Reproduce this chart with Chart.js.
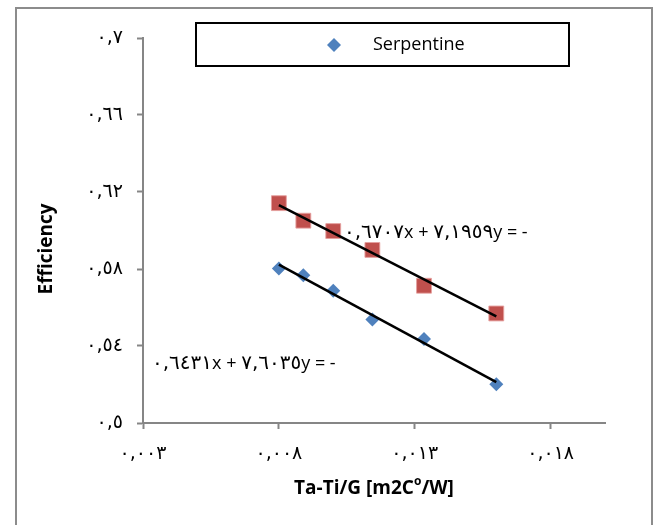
<!DOCTYPE html>
<html>
<head>
<meta charset="utf-8">
<script src="https://cdn.jsdelivr.net/npm/chart.js@4"></script>
<style>
  html, body { margin: 0; padding: 0; background: #fff; }
  canvas { display: block; }
</style>
</head>
<body>
<canvas id="chart" width="657" height="525"></canvas>
<script>
// ---- Data ----
const xSerpentine = [0.0080, 0.0089, 0.0100, 0.01144, 0.01334, 0.0160];
const ySerpentine = [0.5803, 0.5768, 0.5687, 0.5538, 0.5437, 0.5201];
const xSecond = [0.0080, 0.0089, 0.0100, 0.01144, 0.01334, 0.0160];
const ySecond = [0.6142, 0.6051, 0.5997, 0.5899, 0.5713, 0.5569];

const yTickValues = [0.5, 0.54, 0.58, 0.62, 0.66, 0.7];
const yTickLabels = ['٠,٥', '٠,٥٤', '٠,٥٨', '٠,٦٢', '٠,٦٦', '٠,٧'];
const xTickValues = [0.003, 0.008, 0.013, 0.018];
const xTickLabels = ['٠,٠٠٣', '٠,٠٠٨', '٠,٠١٣', '٠,٠١٨'];

// equation labels, split into arabic digit runs and latin runs
const eqSerpentine = ['٠,٦٤٣١', 'x + ', '٧,٦٠٣٥', 'y = -'];
const eqSecond = ['٠,٦٧٠٧', 'x + ', '٧,١٩٥٩', 'y = -'];

const BLUE = '#4F81BD';
const RED = '#C0504D';
const AXIS = '#868686';
const LATIN = "'Open Sans', 'DejaVu Sans', sans-serif";
const ARABIC = "'DejaVu Sans', sans-serif";

// least squares trendline, drawn from first to last x
function trend(xs, ys) {
  const n = xs.length;
  const mx = xs.reduce((a, b) => a + b, 0) / n;
  const my = ys.reduce((a, b) => a + b, 0) / n;
  let sxy = 0, sxx = 0;
  xs.forEach((x, i) => { sxy += (x - mx) * (ys[i] - my); sxx += (x - mx) * (x - mx); });
  const m = sxy / sxx, b = my - m * mx;
  const x0 = Math.min(...xs), x1 = Math.max(...xs);
  return [{ x: x0, y: m * x0 + b }, { x: x1, y: m * x1 + b }];
}

const toPoints = (xs, ys) => xs.map((x, i) => ({ x, y: ys[i] }));

function drawRuns(ctx, runs, x, y) {
  ctx.textAlign = 'left';
  ctx.textBaseline = 'alphabetic';
  runs.forEach((t, i) => {
    ctx.font = i % 2 === 0 ? '20px ' + ARABIC : '18px ' + LATIN;
    ctx.fillText(t, x, y);
    x += ctx.measureText(t).width;
  });
}

// ---- Extras: frame, legend, titles, equations ----
const extras = {
  id: 'extras',
  afterDraw(chart) {
    const ctx = chart.ctx;
    ctx.save();
    ctx.direction = 'ltr';
    // outer frame
    ctx.strokeStyle = '#8c8c8c';
    ctx.lineWidth = 2;
    ctx.strokeRect(16, 8, 636, 530);

    // legend box
    ctx.strokeStyle = '#000';
    ctx.lineWidth = 2;
    ctx.strokeRect(196, 23, 373, 43);
    ctx.fillStyle = BLUE;
    ctx.beginPath();
    ctx.moveTo(334, 38); ctx.lineTo(341, 45); ctx.lineTo(334, 52); ctx.lineTo(327, 45);
    ctx.closePath();
    ctx.fill();
    ctx.fillStyle = '#000';
    ctx.font = '18px ' + LATIN;
    ctx.textAlign = 'left';
    ctx.textBaseline = 'middle';
    ctx.fillText('Serpentine', 373, 45);

    // equations
    drawRuns(ctx, eqSecond, 344, 238);
    drawRuns(ctx, eqSerpentine, 152, 369);

    // y title
    ctx.textBaseline = 'middle';
    ctx.font = 'bold 19px ' + LATIN;
    ctx.save();
    ctx.translate(47, 249);
    ctx.rotate(-Math.PI / 2);
    ctx.textAlign = 'center';
    ctx.fillText('Efficiency', 0, 0);
    ctx.restore();

    // x title with superscript o
    const a = 'Ta-Ti/G [m2C', sup = 'o', c = '/W]';
    ctx.font = 'bold 19px ' + LATIN;
    const wa = ctx.measureText(a).width, wc = ctx.measureText(c).width;
    ctx.font = 'bold 12px ' + LATIN;
    const ws = ctx.measureText(sup).width;
    let x = 374 - (wa + ws + wc) / 2;
    ctx.textAlign = 'left';
    ctx.font = 'bold 19px ' + LATIN;
    ctx.fillText(a, x, 489);
    x += wa;
    ctx.font = 'bold 12px ' + LATIN;
    ctx.fillText(sup, x, 482);
    x += ws;
    ctx.font = 'bold 19px ' + LATIN;
    ctx.fillText(c, x, 489);
    ctx.restore();
  }
};

new Chart(document.getElementById('chart'), {
  type: 'scatter',
  data: {
    datasets: [
      {
        label: 'Trend 1',
        type: 'line',
        data: trend(xSerpentine, ySerpentine),
        borderColor: '#000',
        borderWidth: 2.5,
        pointRadius: 0,
        order: 0
      },
      {
        label: 'Trend 2',
        type: 'line',
        data: trend(xSecond, ySecond),
        borderColor: '#000',
        borderWidth: 2.5,
        pointRadius: 0,
        order: 0
      },
      {
        label: 'Serpentine',
        data: toPoints(xSerpentine, ySerpentine),
        pointStyle: 'rectRot',
        pointRadius: 7,
        backgroundColor: BLUE,
        borderColor: BLUE,
        borderWidth: 0,
        order: 1
      },
      {
        label: 'Series 2',
        data: toPoints(xSecond, ySecond),
        pointStyle: 'rect',
        pointRadius: 10.5,
        backgroundColor: RED,
        borderColor: 'rgba(230,160,158,0.9)',
        borderWidth: 1,
        order: 1
      }
    ]
  },
  options: {
    responsive: false,
    animation: false,
    events: [],
    layout: { padding: { left: 0, top: 38, right: 52, bottom: 0 } },
    plugins: { legend: { display: false }, tooltip: { enabled: false } },
    scales: {
      x: {
        type: 'linear',
        min: 0.003,
        max: 0.02,
        afterFit: s => { s.height = 102; },
        afterBuildTicks: s => { s.ticks = xTickValues.map(v => ({ value: v })); },
        ticks: {
          autoSkip: false,
          maxRotation: 0,
          padding: 14,
          color: '#000',
          font: { family: ARABIC, size: 19 },
          callback: (v, i) => xTickLabels[i]
        },
        grid: { drawOnChartArea: false, tickLength: 6, tickColor: AXIS, tickWidth: 2 },
        border: { color: AXIS, width: 2 }
      },
      y: {
        type: 'linear',
        min: 0.5,
        max: 0.7,
        afterFit: s => { s.width = 143; },
        afterBuildTicks: s => { s.ticks = yTickValues.map(v => ({ value: v })); },
        ticks: {
          autoSkip: false,
          padding: 14,
          color: '#000',
          font: { family: ARABIC, size: 19 },
          callback: (v, i) => yTickLabels[i]
        },
        grid: { drawOnChartArea: false, tickLength: 6, tickColor: AXIS, tickWidth: 2 },
        border: { color: AXIS, width: 2 }
      }
    }
  },
  plugins: [extras]
});
</script>
</body>
</html>
